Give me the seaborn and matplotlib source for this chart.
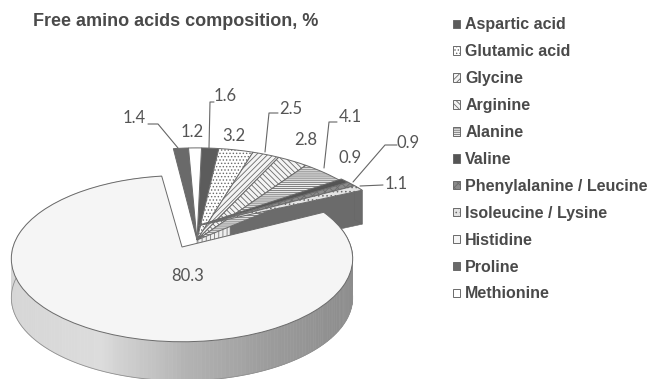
import numpy as np
import matplotlib
matplotlib.use("Agg")
import matplotlib.pyplot as plt
import seaborn as sns
from matplotlib.collections import PolyCollection
from matplotlib.transforms import Transform

# Composition of free amino acids, clockwise from the top of the pie
amino_acids = ["Aspartic acid", "Glutamic acid", "Glycine", "Arginine", "Alanine", "Valine",
               "Phenylalanine / Leucine", "Isoleucine / Lysine", "Histidine", "Proline", "Methionine"]
shares = [1.6, 3.2, 2.5, 2.8, 4.1, 0.9, 0.9, 1.1, 80.3, 1.4, 1.2]
share_labels = ["1.6", "3.2", "2.5", "2.8", "4.1", "0.9", "0.9", "1.1", "80.3", "1.4", "1.2"]
chart_title = "Free amino acids composition, %"

face_colors = ["#5c5c5c", "#ffffff", "#f4f4f4", "#f4f4f4", "#eeeeee", "#555555",
               "#8a8a8a", "#e4e4e4", "#f5f5f5", "#6a6a6a", "#ffffff"]
hatches = ["", ".....", "//////", "\\\\\\\\\\\\", "--------", "", "xxxx", "....", "", "....", ""]

TEXT = "#4a4a4a"
LABEL = "#555555"


class TiltedDisc(Transform):
    """Project a unit disc lying on a table to pixels, with nearer parts drawn larger."""
    input_dims = 2
    output_dims = 2

    def __init__(self, cx, cy, a, k, p):
        super().__init__()
        self.cx, self.cy, self.a, self.k, self.p = cx, cy, a, k, p

    def transform_non_affine(self, values):
        values = np.asarray(values, dtype=float)
        u, v = values[:, 0], values[:, 1]
        w = 1 + self.p * v
        return np.column_stack([self.cx + self.a * u / w, self.cy - self.k * v / w])


sns.set_theme(style="white", rc={"hatch.linewidth": 0.6, "font.family": ["Liberation Sans", "DejaVu Sans"]})
fig = plt.figure(figsize=(6.51, 3.79), dpi=100, facecolor="white")
ax = fig.add_axes([0, 0, 1, 1])

wedges, _ = ax.pie(shares, startangle=88.5, counterclock=False,
                   colors=face_colors, wedgeprops={"edgecolor": "#6a6a6a", "linewidth": 0.7})
ax.set_aspect("auto")
ax.set_xlim(0, 651)
ax.set_ylim(379, 0)
ax.axis("off")

for wedge, hatch in zip(wedges, hatches):
    wedge.set_hatch(hatch)

legend = ax.legend(wedges, amino_acids, loc="upper left", bbox_to_anchor=(452.5, 17.5),
                   bbox_transform=ax.transData, frameon=False, borderpad=0, borderaxespad=0,
                   handlelength=0.45, handleheight=0.45, handletextpad=0.34, labelspacing=0.745,
                   prop={"family": "Liberation Sans", "weight": "bold", "size": 11.5})
for text in legend.get_texts():
    text.set_color(TEXT)

# The large slice, the upper fan and the three slices pushed furthest out each get a disc
big_disc = TiltedDisc(182, 247, 169, 81.5, 0.14)
fan_disc = TiltedDisc(197, 240, 197, 105, 0.14)
pushed_disc = TiltedDisc(197, 226, 197, 84, 0.14)
big_index = int(np.argmax(shares))
for i, wedge in enumerate(wedges):
    if i == big_index:
        disc = big_disc
    elif i in (big_index - 3, big_index - 2, big_index - 1):
        disc = pushed_disc
    else:
        disc = fan_disc
    wedge.set_transform(disc + ax.transData)
    wedge.set_zorder(4 if i == big_index else 3)
    wedge.set_clip_on(False)


def arc_points(disc, theta1, theta2, n):
    t = np.radians(np.linspace(theta1, theta2, n))
    return disc.transform_non_affine(np.column_stack([np.cos(t), np.sin(t)]))


# Outer wall of the large slice, shaded from left to right
wall_depth = 39
big = wedges[big_index]
rim = arc_points(big_disc, big.theta1, big.theta2, 240)
ramp = sns.blend_palette(["#d6d6d6", "#dcdcdc", "#b4b4b4", "#9c9c9c", "#8c8c8c"], 101)
quads, shades = [], []
for p0, p1 in zip(rim[:-1], rim[1:]):
    quads.append([p0, p1, p1 + [0, wall_depth], p0 + [0, wall_depth]])
    shades.append(ramp[int(np.clip((p0[0] - 10) / 3.41, 0, 100))])
ax.add_collection(PolyCollection(quads, facecolors=shades, edgecolors=shades, linewidths=0.4, zorder=1))
ax.plot(rim[:, 0], rim[:, 1] + wall_depth, color="#8f8f8f", lw=0.6, zorder=1, clip_on=False)

# Walls of the last small slice before the large one
tip_slice = wedges[big_index - 1]
tip_depth = 34
tip_rim = arc_points(pushed_disc, tip_slice.theta1, tip_slice.theta2, 8)
corner = arc_points(pushed_disc, tip_slice.theta1, tip_slice.theta1, 1)[0]
apex = pushed_disc.transform_non_affine(np.array([[0.0, 0.0]]))[0]
start = apex + 0.2 * (corner - apex)
side = [start, corner, corner + [0, tip_depth], start + [0, tip_depth]]
end_wall = list(tip_rim) + [p + [0, tip_depth] for p in tip_rim[::-1]]
ax.add_collection(PolyCollection([side, end_wall], facecolors="#6b6b6b", edgecolors="#666666",
                                 linewidths=0.4, zorder=2))
ax.add_collection(PolyCollection([[apex, start, start + [0, tip_depth], apex + [0, tip_depth]]],
                                 facecolors="#eeeeee", edgecolors="#777777", linewidths=0.4,
                                 hatch="||||", zorder=2))

# Value labels and their leader lines
label_positions = [(225, 96), (234, 136), (291, 109), (306, 140), (350, 117), (350, 158),
                   (408, 143), (396, 184), (188, 276), (134, 118), (192, 132)]
for value, (x, y) in zip(share_labels, label_positions):
    ax.text(x, y, value, ha="center", va="center", family="Lato", fontsize=12, color=LABEL, zorder=6)

leaders = [[(214, 102), (210, 102), (209, 148)],
           [(278, 113), (269, 113), (265, 152)],
           [(337, 122), (329, 122), (324, 168)],
           [(397, 145), (385, 145), (353, 182)],
           [(383, 185), (360, 186)],
           [(148, 124), (158, 124), (178, 148)]]
for path in leaders:
    xs, ys = zip(*path)
    ax.plot(xs, ys, color="#666666", lw=0.8, zorder=5)

ax.text(33, 21, chart_title, ha="left", va="center", family="Liberation Sans",
        weight="bold", fontsize=13, color=TEXT)

fig.savefig("out.png", dpi=100, facecolor="white")
